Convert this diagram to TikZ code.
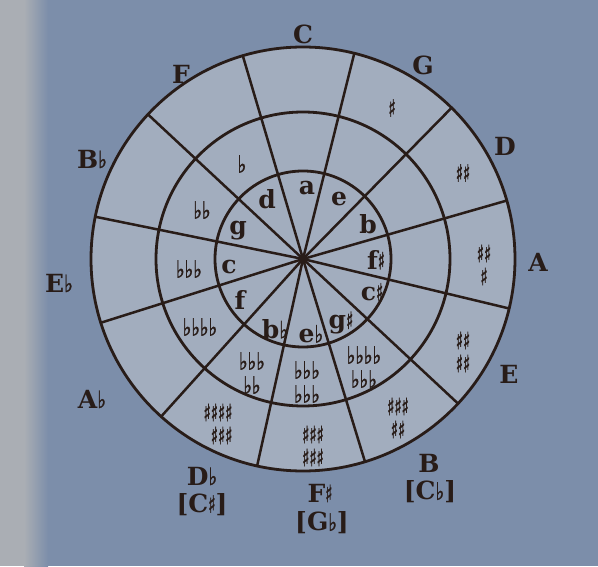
\documentclass[tikz,border=0pt]{standalone}
\usepackage{fontspec}
\setmainfont{DejaVu Serif}
\newfontfamily\flatfont[FakeStretch=0.76,FakeBold=1.2]{DejaVu Sans}
\newfontfamily\sharpfont[FakeStretch=0.62,FakeBold=1.2]{DejaVu Sans}
\definecolor{ink}{RGB}{40,28,24}
\definecolor{bgblue}{RGB}{124,142,170}
\definecolor{bgstrip}{RGB}{170,174,180}
\definecolor{paper}{RGB}{162,173,190}
\newcommand\myflat{{\flatfont\fontsize{24}{24}\selectfont ♭}}
\newcommand\mysharp{{\sharpfont\fontsize{24}{24}\selectfont ♯}}
\begin{document}
\begin{tikzpicture}[x=1pt,y=1pt,
  ring/.style={draw=ink,line width=2.8pt},
  spoke/.style={draw=ink,line width=2.5pt,line cap=round},
  keylab/.style={text=ink,inner sep=0pt,font=\bfseries\fontsize{25}{25}\selectfont},
  minlab/.style={text=ink,inner sep=0pt,font=\bfseries\fontsize{25}{25}\selectfont},
  flats/.style={text=ink,inner sep=0pt,align=center,font=\flatfont\fontsize{24}{24}\selectfont},
  sharps/.style={text=ink,inner sep=0pt,align=center,font=\sharpfont\fontsize{24}{23}\selectfont}]
\useasboundingbox (0,0) rectangle (598,566);
% background
\fill[bgblue] (0,0) rectangle (598,566);
\fill[bgstrip] (0,0) rectangle (24,566);
\shade[left color=bgstrip,right color=bgblue] (24,0) rectangle (48,566);
\coordinate (O) at (303,307);
\fill[paper] (O) circle (212);
% rings
\draw[ring] (O) circle (212);
\draw[ring] (O) circle (147);
\draw[ring] (O) circle (88);
% spokes
\foreach \a [count=\i] in {76,45.5,16,-13.5,-43,-73,-102.5,-132,-162.5,168.5,137,106.5}{
  \path (O) ++(\a:212) coordinate (s\i);
  \draw[spoke] (O) -- (s\i);
}
% major keys
\node[keylab] (kC)  at (303,532) {C};
\node[keylab] (kG)  at (423,501) {G};
\node[keylab] (kD)  at (505,420) {D};
\node[keylab] (kA)  at (538,304) {A};
\node[keylab] (kE)  at (509,192) {E};
\node[keylab] (kB)  at (429,103) {B};
\node[keylab] (kCb) at (430,74)  {[C\myflat]};
\node[keylab] (kFs) at (320,73)  {F\mysharp};
\node[keylab] (kGb) at (322,43)  {[G\myflat]};
\node[keylab] (kDb) at (202,90)  {D\myflat};
\node[keylab] (kCs) at (202,61)  {[C\mysharp]};
\node[keylab] (kAb) at (92,167)  {A\myflat};
\node[keylab] (kEb) at (59,283)  {E\myflat};
\node[keylab] (kBb) at (92,407)  {B\myflat};
\node[keylab] (kF)  at (181,492) {F};
% minor keys
\node[minlab] (ma)  at (307,378) {a};
\node[minlab] (me)  at (339,367) {e};
\node[minlab] (mb)  at (368,342) {b};
\node[minlab] (mfs) at (376,306) {f\mysharp};
\node[minlab] (mcs) at (372,274) {c\mysharp};
\node[minlab] (mgs) at (341,243) {g\mysharp};
\node[minlab] (meb) at (311,232) {e\myflat};
\node[minlab] (mbb) at (275,237) {b\myflat};
\node[minlab] (mf)  at (240,266) {f};
\node[minlab] (mc)  at (229,299) {c};
\node[minlab] (mg)  at (238,335) {g};
\node[minlab] (md)  at (267,367) {d};
% flats (middle ring)
\node[flats] (fF)  at (242,402) {♭};
\node[flats] (fBb) at (202,356) {♭♭};
\node[flats] (fEb) at (189,297) {♭♭♭};
\node[flats] (fAb) at (200,239) {♭♭♭♭};
\node[flats] (fDb) at (252,193) {♭♭♭\\♭♭};
\node[flats] (fGb) at (307,184) {♭♭♭\\♭♭♭};
\node[flats] (fCb) at (364,199) {♭♭♭♭\\♭♭♭};
% sharps (outer ring)
\node[sharps] (sG)  at (392,458) {♯};
\node[sharps] (sD)  at (463,393) {♯♯};
\node[sharps] (sA)  at (484,301) {♯♯\\♯};
\node[sharps] (sE)  at (463,214) {♯♯\\♯♯};
\node[sharps] (sB)  at (398,148) {♯♯♯\\♯♯};
\node[sharps] (sFs) at (313,120) {♯♯♯\\♯♯♯};
\node[sharps,align=right] (sCs) at (218,142) {♯♯♯♯\\♯♯♯};
\end{tikzpicture}
\end{document}
